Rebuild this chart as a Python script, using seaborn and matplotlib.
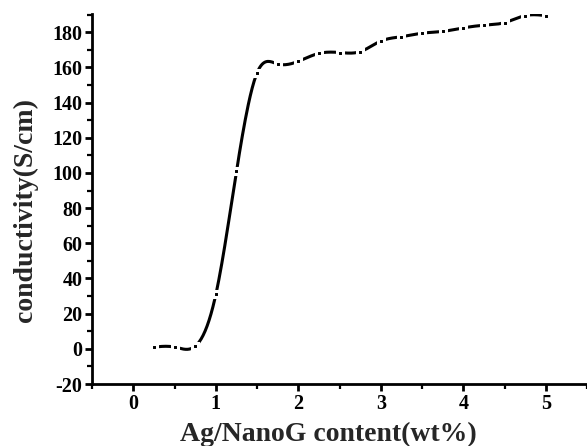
from matplotlib import pyplot as plt
from matplotlib.ticker import MultipleLocator
import seaborn as sns
import numpy as np
import pandas as pd

# Ag/NanoG content (wt%) and measured conductivity (S/cm)
content = [0.25, 0.5, 0.75, 1.0, 1.25, 1.5, 1.75, 2.0, 2.25, 2.5, 2.75,
           3.0, 3.25, 3.5, 3.75, 4.0, 4.25, 4.5, 4.75, 5.0]
conductivity = [1, 1, 1.5, 31, 101, 157, 162, 163.5, 168, 168.5, 169,
                175, 177.5, 179.5, 180.5, 182.5, 184, 185.5, 189.5, 189.5]


def natural_spline(x, y, n=400):
    # natural cubic spline drawn through the measured points (connection line only)
    x = np.asarray(x, float)
    y = np.asarray(y, float)
    h = np.diff(x)
    k = len(x)
    A = np.zeros((k, k))
    b = np.zeros(k)
    A[0, 0] = A[-1, -1] = 1
    for i in range(1, k - 1):
        A[i, i - 1] = h[i - 1]
        A[i, i] = 2 * (h[i - 1] + h[i])
        A[i, i + 1] = h[i]
        b[i] = 6 * ((y[i + 1] - y[i]) / h[i] - (y[i] - y[i - 1]) / h[i - 1])
    m = np.linalg.solve(A, b)
    xs = np.linspace(x[0], x[-1], n)
    idx = np.clip(np.searchsorted(x, xs) - 1, 0, k - 2)
    x0, x1 = x[idx], x[idx + 1]
    hh = x1 - x0
    t0, t1 = x1 - xs, xs - x0
    ys = (m[idx] * t0 ** 3 + m[idx + 1] * t1 ** 3) / (6 * hh) \
        + (y[idx] / hh - m[idx] * hh / 6) * t0 \
        + (y[idx + 1] / hh - m[idx + 1] * hh / 6) * t1
    return xs, ys


df = pd.DataFrame({'content': content, 'conductivity': conductivity})
xs, ys = natural_spline(content, conductivity)
curve = pd.DataFrame({'content': xs, 'conductivity': ys})

sns.set_theme(style='ticks')
plt.rcParams['font.family'] = ['Liberation Serif', 'DejaVu Serif']
plt.rcParams['font.weight'] = 'bold'
plt.rcParams['axes.unicode_minus'] = False

fig = plt.figure(figsize=(5.87, 4.46), dpi=100)
ax = fig.add_axes([0.157, 0.139, 0.843, 0.83])

sns.lineplot(data=curve, x='content', y='conductivity', ax=ax,
             color='black', linewidth=2.2, sort=False)
sns.lineplot(data=df, x='content', y='conductivity', ax=ax,
             color='black', linestyle='none', marker='s', markersize=4.3,
             markerfacecolor='black', markeredgecolor='white',
             markeredgewidth=2.2)

ax.set_xlim(-0.5, 5.5)
ax.set_ylim(-20, 190.5)
ax.xaxis.set_major_locator(MultipleLocator(1))
ax.xaxis.set_minor_locator(MultipleLocator(0.5))
ax.yaxis.set_major_locator(MultipleLocator(20))
ax.yaxis.set_minor_locator(MultipleLocator(10))

for side in ['top', 'right']:
    ax.spines[side].set_visible(False)
for side in ['left', 'bottom']:
    ax.spines[side].set_linewidth(2.0)
    ax.spines[side].set_color('black')

ax.tick_params(which='major', direction='out', length=5, width=2.0,
               labelsize=14.5, colors='black', pad=2)
ax.tick_params(which='minor', direction='out', length=3.5, width=1.6,
               colors='black')
for lab in ax.get_xticklabels() + ax.get_yticklabels():
    lab.set_fontweight('bold')

ax.set_xlabel('Ag/NanoG content(wt%)', fontsize=20, fontweight='bold')
ax.set_ylabel('conductivity(S/cm)', fontsize=20, fontweight='bold')
ax.xaxis.set_label_coords(0.478, -0.102, transform=ax.transAxes)
ax.yaxis.set_label_coords(-0.11, 0.47, transform=ax.transAxes)

plt.savefig('out.png', dpi=100)
